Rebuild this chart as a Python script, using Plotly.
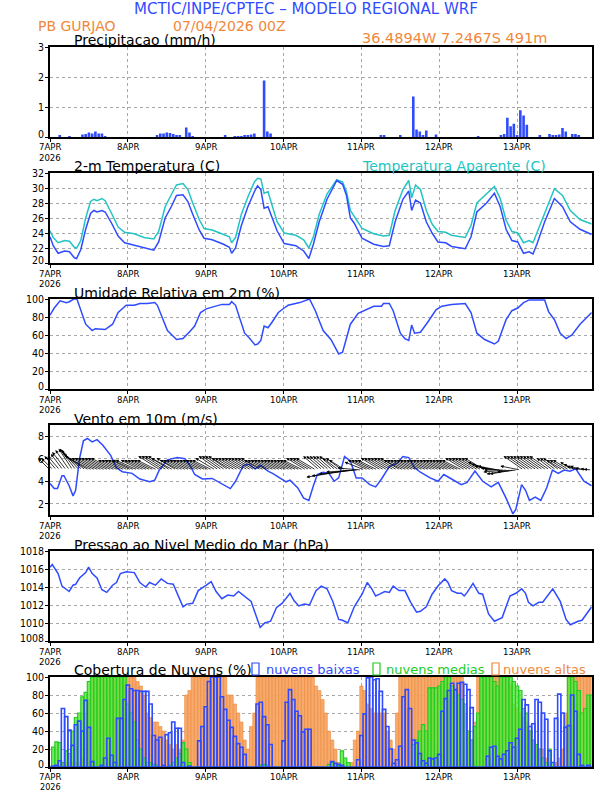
import plotly.graph_objects as go

W, H = 612, 792
# ---------------- data ----------------
day_ticks = [0, 24, 48, 72, 96, 120, 144]
day_labels = ["7APR", "8APR", "9APR", "10APR", "11APR", "12APR", "13APR"]
year_label = "2026"
hours = list(range(168))

precip_ticks = [0, 1, 2, 3]
temp_ticks = [20, 22, 24, 26, 28, 30, 32]
rh_ticks = [0, 20, 40, 60, 80, 100]
wind_ticks = [2, 4, 6, 8]
pres_ticks = [1008, 1010, 1012, 1014, 1016, 1018]
cloud_ticks = [0, 20, 40, 60, 80, 100]

precip = [0,0,0,0.04,0,0,0.03,0,0,0,0.08,0.10,0.15,0.12,0.18,0.12,0.12,0.02,0,0,0,0,0,0,
          0,0,0,0,0,0,0,0,0,0.05,0.12,0.12,0.15,0.13,0.10,0.05,0.04,0,0.32,0.15,0.02,0,0,0,
          0,0,0,0,0,0,0.04,0,0,0.02,0.02,0.03,0.05,0.06,0.08,0.12,0,0,1.88,0.18,0.12,0,0,0,
          0,0,0,0,0,0,0,0,0,0,0,0,0,0,0,0,0,0,0,0,0,0,0,0,
          0,0,0,0,0,0,0.05,0.05,0,0,0,0,0.04,0,0,0,1.35,0.25,0.18,0.07,0.22,0,0,0.08,
          0,0,0,0,0,0,0,0,0,0,0,0,0.02,0,0,0,0,0,0,0.05,0.10,0.64,0.36,0.44,
          0.05,0.89,0.72,0.41,0,0,0,0.04,0,0,0.10,0.04,0.04,0.08,0.30,0.18,0,0.10,0.10,0.07,0,0,0,0]

temp_t = [0,1,2.5,4.5,6,7.5,8.2,9.5,11,12.5,13.5,14.5,16,17,19,21,23,26,29,32,33.5,35.5,37.5,39,41,42.5,
          44,46,47.5,50,53.5,55.3,56,57.2,59,61,63,64,65,66,67.2,68.6,70,72.2,75.8,78.2,79.8,81.2,83,
          85.4,88.4,90.2,91.4,92.6,93.8,96.2,99.8,102.8,104.6,106.4,108.8,110.6,111.5,112.7,114.2,116,
          117.8,119.6,122,123.8,128,129.8,131.6,134.6,137,138.8,140.6,142.4,144.2,146,147.7,148.9,150.1,
          152.5,155.5,158,160.4,163.4,167]
temp = [23.5,22.3,21.3,21.6,21.5,20.7,20.6,21.8,24.5,26.6,27.0,26.8,27.0,26.8,25.3,23.6,22.7,22.4,22.0,
        21.7,22.8,26.0,27.6,29.0,29.1,28.2,26.5,24.4,23.3,23.1,22.5,22.1,21.3,22.0,25.0,27.5,29.5,30.3,
        29.8,27.3,27.5,25.8,24.3,22.6,22.3,21.6,20.6,22.5,25.5,28.5,31.0,30.5,29.0,26.0,25.3,23.3,22.5,
        22.2,22.3,25.5,28.5,29.6,27.0,28.4,28.0,25.5,24.0,22.8,22.7,22.2,21.9,23.5,26.8,28.0,29.3,27.5,
        24.5,23.0,22.8,21.3,21.5,21.2,22.5,25.5,28.6,27.5,25.5,24.5,23.8]
temp_ap = [24.3,23.4,22.7,23.0,22.9,22.1,22.0,23.0,26.0,28.2,28.5,28.3,28.6,28.3,26.6,24.8,24.1,23.9,
           23.4,23.2,24.2,27.5,29.2,30.4,30.6,29.8,28.0,25.8,24.6,24.4,23.8,23.5,22.7,23.4,26.5,28.8,
           30.8,31.3,31.2,29.3,29.5,27.5,25.5,24.0,23.7,23.1,22.0,23.5,26.5,29.2,31.1,30.8,29.5,27.0,
           26.2,24.6,23.9,23.6,23.7,27.0,29.8,31.0,28.7,30.4,29.8,27.0,25.2,24.2,24.1,23.7,23.4,25.0,
           28.0,29.3,30.2,28.6,25.7,24.2,24.0,22.7,23.0,22.7,24.0,26.8,29.9,29.0,27.0,25.8,25.2]

rh_t = [0,1.3,3.1,5,6,7.3,8.3,9.7,11,13,14,17,19.3,21,23.5,26,27.7,30,32.3,33.1,36.2,39,41,43.4,44.6,
        46.4,48.2,50,53,55.3,56,57.2,60,61.4,63.2,64,65,66,67.2,68.6,70.4,72.2,73.4,77,80,81.8,84.2,86.6,
        89,90.2,92.6,95,97.4,99.8,102.2,102.8,104.6,105.8,108,109.4,110.6,111.5,112.4,114.2,116.6,119,
        120.8,123.8,128,129.8,131.6,134,137,138.2,140.6,142.4,144.2,146,147.7,150.7,152.5,153.7,155.5,
        157.3,159.1,160.9,163.4,167]
rh = [82,90,98,96,97,100,100,85,72,65,67,66,72,85,93,93,95,95,96,93,65,55,56,65,70,85,89,91,94,94,97,
      93,62,57,49,50,54,70,68,75,85,90,93,96,100,87,65,55,39,41,72,84,88,92,92,95,95,87,62,56,54,71,62,
      63,75,88,92,94,95,85,62,55,50,53,77,87,90,96,99,99,99,86,77,62,56,60,72,85]

wind_t = [0,1.3,2.3,3.7,4.3,5.9,7.1,7.9,9.1,10.3,11.5,13,14.5,16.3,18.7,20.5,22.3,25.3,27.7,30.7,32.3,
          33.7,36.2,39.2,41.6,43.4,44.6,47,50,53,55.6,57.2,59.6,61.4,63.2,65,67.2,68.6,71,72.8,74,76.4,
          78.2,79.8,81.2,82.4,84.2,86,87.6,89,90.8,92.6,94.4,96.2,98.6,100.4,102.2,104.6,107,108.8,110.6,
          112.4,114.2,116,117.2,119.6,121.4,123.8,126.8,128.6,131,133.4,136,138.2,140.6,142.7,143.6,
          145.4,146.6,147.8,149.6,151.3,153.1,154.9,156.7,158.5,160.3,162.1,164.6,167]
wind = [3.8,3.35,3.35,4.5,4.5,3.6,2.7,3.2,6.0,7.6,7.8,7.5,7.7,7.2,6.3,5.2,4.85,4.7,4.2,3.95,4.1,5.0,5.9,
        6.1,6.0,5.3,4.6,4.2,4.25,3.8,3.35,4.0,5.4,5.5,5.1,5.4,4.9,4.7,4.3,3.95,4.1,3.4,2.5,2.3,3.6,4.6,
        4.8,4.7,4.0,4.3,6.2,5.8,4.3,4.3,3.7,3.5,4.2,5.3,5.6,6.2,6.1,5.2,4.8,4.5,4.3,4.0,4.6,4.2,3.7,3.9,
        4.9,4.0,3.5,3.9,2.5,1.1,1.5,3.7,3.2,2.3,2.6,2.3,3.4,5.0,4.7,5.0,4.9,5.1,4.0,3.6]

# hourly wind vector components (m/s)
wind_u = [-3,-3,-3,-3,-3,-3.5,-3.5,-3.5,-4,-4.5,-5,-5.5,-6,-6,-6,-6,-6,-6,-6,-6,-6,-5,-5,-5,
          -5,-5,-5.5,-5.5,-5,-5,-5,-5,-5,-5,-5.5,-5.5,-5.5,-5.5,-5.5,-5,-5,-5,-5,-5,-5,-5,-5,-5,
          -5,-5,-5,-5,-5,-5,-5,-5,-5,-5,-5,-5,-5,-5,-5,-5,-5,-5,-5,-5,-5,-5,-5,-5,
          -5,-5,-5,-5,-5,-5,-5,-5,-5,-5,-5,-4,-4,-4,-4,-4,-4,-4,-4,-4,-10.5,-10,-9,-8,-6,-5,
          -5,-5,-5,-5,-5,-5,-5,-5,-5,-5,-5,-5,-5,-5,-5,-5,-5,-5,-5,-5,-5,-5,-5,-5,
          -5,-5,-5,-5,-5,-5,-5,-5,-5,-5,-5,-5,-5,-5,-5,-5,-5,-5,-5,-6,-6,-6,-5,-5,
          -5,-5,-5,-5,-5,-5,-5,-5,-5,-4,-4,-4,-4,-4,-4,-3,-3,-3,-3,-2.5,-2,-2,-2,-2]
wind_v = [3,3,3.5,3.5,4,4.5,5,5.3,5.3,5,4.5,4,3.5,3,3,3,3,3,3,3,3,2.5,2.5,2.5,
          2.5,2.5,2.5,2.5,2.5,2.5,2.5,2.5,2.5,2.5,3.5,3.5,3.5,3.5,3,3,2.5,2.5,2.5,2.5,2.5,2.5,2.5,2.5,
          2.5,2.5,2.5,3,3.5,3.5,3.5,3.5,3,3,3,3,3,3,3,3,3,3,2.5,2.5,2.5,2.5,2.5,2.5,
          2.5,2.5,2.5,2.5,2.5,2.5,2.5,3,3,3,3,3.5,3.5,3.5,3.5,3.5,3.5,3,3,2.5,-1.8,-1.5,-1,-0.5,0.5,2,
          2.5,2.5,2.5,2.5,3,3,3,3,3,3,3,2.5,2.5,2.5,2.5,2.5,2.5,2.5,2.5,2.5,2.5,2.5,2.5,2.5,
          2.5,2.5,2.5,2.5,2.5,2.5,3,3,3,3,3,3,3,2,1.5,1,1,0.5,0,-0.5,-1,-1,-0.5,1,
          3.5,3.5,3.5,3.5,3.5,3.5,3.5,3.5,3.5,3,3,3,2.5,2.5,2.5,2,1.5,1,1,0.5,0.3,0.2,0.1,0]

pres_t = [0,0.7,2.5,3.7,5.9,7.1,7.9,9.1,11,11.9,13,14.5,16,17.5,19.3,20.5,21.7,23.5,26,27.7,29.5,30.7,
          32.5,34.3,36.2,38,41,42.2,44,45.7,48.2,49.7,51.2,53,54.8,56.6,58.1,59.6,62,64.8,66.2,68,69.8,
          71.6,74,75.2,76.7,78.4,80,82,83.6,85.4,87.2,89,90.2,91.8,93.8,96.2,97.8,99.2,100.4,101.6,103.2,
          104.6,105.8,107.6,109.4,111.2,113,114.2,116,117.8,119.6,121.7,122.7,123.8,125.6,126.8,127.7,
          128.6,130.4,132.2,133.4,135.2,137,139.4,141.8,143.6,145.4,146.6,147.5,148.9,150.7,151.9,153.7,
          155,157.3,159.1,160.4,162.8,164,167]
pres = [1016.2,1016.5,1015.5,1014.1,1013.5,1014.2,1014.3,1015.0,1015.6,1016.2,1015.5,1015.0,1013.7,
        1013.4,1014.2,1014.5,1015.5,1015.7,1015.6,1014.5,1014.0,1014.5,1014.2,1014.9,1014.4,1014.3,
        1011.8,1012.1,1012.2,1013.6,1014.2,1014.6,1013.5,1012.7,1013.1,1013.0,1013.5,1013.1,1012.4,
        1009.5,1010.0,1010.2,1011.7,1012.2,1013.3,1012.5,1011.9,1012.1,1012.0,1013.6,1014.1,1013.8,
        1012.4,1010.4,1010.3,1010.0,1011.8,1013.2,1014.5,1013.8,1013.0,1013.2,1013.5,1013.4,1014.1,
        1013.6,1013.6,1012.3,1011.2,1011.3,1011.8,1013.2,1014.1,1014.9,1014.5,1013.6,1013.3,1013.3,
        1013.0,1013.4,1014.4,1013.3,1013.2,1011.0,1010.2,1010.6,1013.0,1013.3,1013.8,1013.3,1012.3,
        1011.9,1012.3,1012.3,1013.2,1013.8,1012.4,1010.4,1009.8,1010.2,1010.3,1011.8]

cloud_low = [0,1,2,7,65,56,41,24,47,51,40,74,44,6,0,0,2,10,32,13,5,54,54,75,
             91,87,85,85,84,84,84,70,35,30,33,2,36,38,50,43,43,5,0,1,0,0,29,45,
             67,95,100,100,100,78,64,52,44,34,26,22,14,0,0,0,70,72,56,47,25,0,0,0,
             29,72,86,75,62,57,39,42,42,0,0,0,0,0,0,6,4,3,2,0,0,0,0,8,
             35,59,99,100,97,98,84,64,45,20,4,8,23,78,86,65,30,27,15,7,4,10,9,10,
             14,62,76,85,93,86,93,94,92,86,66,0,0,0,0,12,22,23,12,9,14,18,27,22,
             32,42,75,69,45,48,75,72,60,53,18,5,54,81,60,44,46,80,62,14,2,0,2,0]
cloud_mid = [0,22,28,27,5,18,15,40,55,60,78,83,95,100,100,100,100,100,100,100,100,100,100,100,
             70,60,50,30,20,10,5,5,3,2,0,0,0,2,5,10,15,27,20,5,0,0,0,0,
             0,0,0,0,0,0,0,0,0,0,0,0,0,0,0,0,0,2,3,2,0,0,0,0,
             0,0,0,0,0,0,0,0,0,0,0,0,0,0,3,5,4,2,18,10,5,0,0,0,
             0,0,0,0,0,0,0,0,0,0,0,0,0,0,0,0,25,30,40,47,40,88,88,88,
             90,95,100,100,90,85,80,75,70,40,30,45,60,100,100,100,100,95,90,100,100,100,100,95,
             90,85,65,60,40,30,25,20,10,5,20,5,0,0,0,0,100,100,95,85,60,65,80,80]
cloud_high = [0,0,0,0,5,5,5,5,5,5,10,60,75,100,100,100,100,100,100,100,100,100,100,100,
              100,100,100,95,90,80,60,55,50,50,45,40,30,25,20,25,20,30,80,85,100,100,100,100,
              100,100,100,100,100,100,100,80,80,70,60,50,30,20,45,60,100,100,100,100,100,100,100,100,
              100,100,100,100,100,100,100,100,100,100,90,85,75,60,40,30,20,5,0,0,0,5,30,40,
              90,85,70,65,60,60,60,60,40,30,20,60,100,100,100,100,100,100,100,100,100,100,100,100,
              100,100,100,100,100,100,100,100,60,40,30,50,100,100,100,100,100,100,100,100,100,100,90,70,
              65,60,55,50,40,30,25,20,20,10,5,0,5,10,20,60,100,100,100,100,100,100,100,100]

# ---------------- styling / layout ----------------
BLUE = "#2f4bff"
CYAN = "#22c4c4"
ORANGE = "#f0883a"
GREEN = "#22cc22"
TFONT = "DejaVu Sans"
KFONT = "DejaVu Sans Condensed, DejaVu Sans"

X0, X1 = 50, 591.7
panels = [(47, 137), (173, 263), (299, 389), (425, 515), (551, 641), (677, 767)]
yranges = [(0, 3), (20, 32), (0, 100), (1, 9), (1008, 1018), (0, 100)]
yticks = [precip_ticks, temp_ticks, rh_ticks, wind_ticks, pres_ticks, cloud_ticks]

def px(x):
    return x / W

def py(y):
    return 1 - y / H

fig = go.Figure()
annotations = []

layout = dict(width=W, height=H, autosize=False, margin=dict(l=0, r=0, t=0, b=0, pad=0),
              paper_bgcolor="white", plot_bgcolor="white", showlegend=False,
              barmode="overlay", font=dict(family=TFONT, color="black"))
for i, ((top, bot), yr, tv) in enumerate(zip(panels, yranges, yticks)):
    sfx = "" if i == 0 else str(i + 1)
    last = (i == len(panels) - 1)
    layout["xaxis" + sfx] = dict(domain=[px(X0), px(X1)], range=[0, 167], anchor="y" + sfx,
                                 tickvals=day_ticks, showticklabels=False, ticks="outside",
                                 ticklen=3, tickcolor="black", showgrid=True, gridcolor="#a8a8a8",
                                 griddash="dot", gridwidth=1, showline=True, mirror=True,
                                 linecolor="black", linewidth=1.5, zeroline=False, automargin=False)
    layout["yaxis" + sfx] = dict(domain=[py(bot), py(top)], range=list(yr), anchor="x" + sfx,
                                 tickvals=tv, showticklabels=False, ticks="outside", ticklen=3,
                                 tickcolor="black", showgrid=True, gridcolor="#a8a8a8",
                                 griddash="dot", gridwidth=1, showline=True, mirror=True,
                                 linecolor="black", linewidth=1.5, zeroline=False, automargin=False)
    # y tick labels
    for v in tv:
        annotations.append(dict(text=str(v), x=px(X0 - 4), y=v, xref="paper", yref="y" + sfx,
                                xanchor="right", yanchor="middle", showarrow=False,
                                yshift=3 if v == yr[0] else 0,
                                font=dict(family=KFONT, size=10.5, color="black")))
    # day labels under each panel
    dy = 9 if last else 10
    for t, lab in zip(day_ticks, day_labels):
        annotations.append(dict(text=lab, x=t, y=py(bot + dy), xref="x" + sfx, yref="paper",
                                xanchor="center", yanchor="middle", showarrow=False,
                                font=dict(family=KFONT, size=9.5, color="black")))
    yy = 786.7 if last else bot + 20.5
    annotations.append(dict(text=year_label, x=0, y=py(yy), xref="x" + sfx, yref="paper",
                            xanchor="center", yanchor="middle", showarrow=False,
                            font=dict(family=KFONT, size=9 if last else 9.5, color="black")))

# precipitation
fig.add_trace(go.Bar(x=hours, y=precip, width=0.8, marker=dict(color=BLUE, line=dict(width=0)),
                     xaxis="x", yaxis="y"))
# temperatures
fig.add_trace(go.Scatter(x=temp_t, y=temp_ap, mode="lines", line=dict(color=CYAN, width=1.5),
                         xaxis="x2", yaxis="y2"))
fig.add_trace(go.Scatter(x=temp_t, y=temp, mode="lines", line=dict(color=BLUE, width=1.5),
                         xaxis="x2", yaxis="y2"))
# RH
fig.add_trace(go.Scatter(x=rh_t, y=rh, mode="lines", line=dict(color=BLUE, width=1.5),
                         xaxis="x3", yaxis="y3"))
# wind speed
fig.add_trace(go.Scatter(x=wind_t, y=wind, mode="lines", line=dict(color=BLUE, width=1.5),
                         xaxis="x4", yaxis="y4"))
# pressure
fig.add_trace(go.Scatter(x=pres_t, y=pres, mode="lines", line=dict(color=BLUE, width=1.5),
                         xaxis="x5", yaxis="y5"))
# clouds
fig.add_trace(go.Bar(x=hours, y=cloud_high, width=1,
                     marker=dict(color="rgba(245,165,100,0.95)", line=dict(color=ORANGE, width=0.6)),
                     xaxis="x6", yaxis="y6"))
fig.add_trace(go.Bar(x=hours, y=cloud_mid, width=1,
                     marker=dict(color="rgba(90,230,60,0.8)", line=dict(color=GREEN, width=1.2)),
                     xaxis="x6", yaxis="y6"))
fig.add_trace(go.Bar(x=hours, y=cloud_low, width=1,
                     marker=dict(color="rgba(0,0,0,0)", line=dict(color=BLUE, width=1.6)),
                     xaxis="x6", yaxis="y6"))

# wind vectors (pixel scale per m/s)
k = 4.0
hx = (X1 - X0) / 167.0
hy = (panels[3][1] - panels[3][0]) / 8.0
for t, u, v in zip(hours, wind_u, wind_v):
    annotations.append(dict(x=t + u * k / hx, y=5 + v * k / hy, ax=t, ay=5,
                            xref="x4", yref="y4", axref="x4", ayref="y4", text="",
                            showarrow=True, arrowhead=2, arrowsize=0.8, arrowwidth=0.8,
                            arrowcolor="black", standoff=0, startstandoff=0))

def label(text, x, y, color="black", size=14, anchor="left"):
    annotations.append(dict(text=text, x=px(x), y=py(y), xref="paper", yref="paper",
                            xanchor=anchor, yanchor="middle", showarrow=False,
                            font=dict(family=TFONT, size=size, color=color)))

label("MCTIC/INPE/CPTEC – MODELO REGIONAL WRF", 306, 9, BLUE, 15, "center")
label("PB GURJAO", 36, 25.5, ORANGE, 14)
label("07/04/2026 00Z", 171, 25.5, ORANGE, 14)
label("36.4894W 7.2467S 491m", 360, 38, ORANGE, 14.5)
label("Precipitacao (mm/h)", 72, 40)
label("2-m Temperatura (C)", 72, 166.5)
label("Temperatura Aparente (C)", 360, 166.5, CYAN)
label("Umidade Relativa em 2m (%)", 72, 292.5)
label("Vento em 10m (m/s)", 72, 418.5)
label("Pressao ao Nivel Medio do Mar (hPa)", 72, 544.5)
label("Cobertura de Nuvens (%)", 72, 669.5)
label("nuvens baixas", 264, 669.5, BLUE, 13)
label("nuvens medias", 384, 669.5, GREEN, 13)
label("nuvens altas", 501, 669.5, ORANGE, 13)

shapes = []
for xb, col in [(252, BLUE), (373, GREEN), (492, ORANGE)]:
    shapes.append(dict(type="rect", xref="paper", yref="paper", x0=px(xb), x1=px(xb + 7),
                       y0=py(675), y1=py(663), line=dict(color=col, width=1.2)))

layout["annotations"] = annotations
layout["shapes"] = shapes
fig.update_layout(**layout)
fig.write_html("out.html", config={"displayModeBar": False},
               post_script="document.body.style.margin='0';document.body.style.overflow='hidden';")
